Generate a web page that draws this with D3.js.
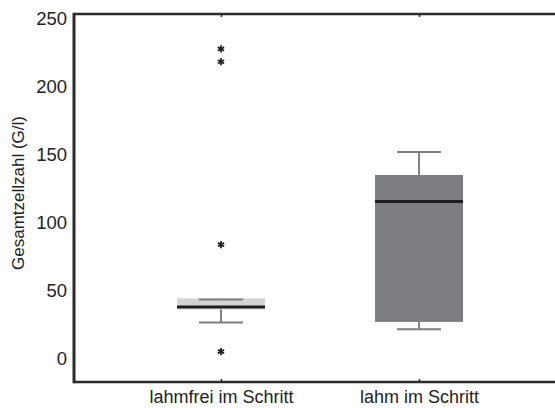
<!DOCTYPE html>
<html><head><meta charset="utf-8">
<script src="https://cdn.jsdelivr.net/npm/d3@7"></script>
<style>body{margin:0;background:#fff}svg{display:block}</style>
</head><body>
<script>
const categories = ["lahmfrei im Schritt", "lahm im Schritt"];
const whiskerLow = [26.7, 21.8];
const q1 = [36.5, 27.2];
const median = [38.2, 115.7];
const q3 = [44.6, 135.3];
const whiskerHigh = [43.6, 152.2];
const outliers = [[228, 218.6, 84, 5.4], []];
const yTicks = [0, 50, 100, 150, 200, 250];
const boxFills = ["#d4d4d4", "#7c7d81"];

const W = 555, H = 408;
const svg = d3.select("body").append("svg").attr("width", W).attr("height", H);
const mLeft = 74, mTop = 14, mBottom = 382, mRight = 566;
const x = d3.scalePoint().domain(categories).range([mLeft, mRight]).padding(0.742);
const y = d3.scaleLinear().domain([-17, 253.7]).range([mBottom, mTop]);
const boxW = 88, capW = 44;
const font = "'Liberation Sans', Arial, sans-serif";

categories.forEach((c, i) => {
  const cx = x(c);
  const g = svg.append("g");
  g.append("line").attr("x1", cx).attr("x2", cx).attr("y1", y(q3[i])).attr("y2", y(whiskerHigh[i]))
    .attr("stroke", "#7f7f7f").attr("stroke-width", 2);
  g.append("line").attr("x1", cx).attr("x2", cx).attr("y1", y(q1[i])).attr("y2", y(whiskerLow[i]))
    .attr("stroke", "#7f7f7f").attr("stroke-width", 2);
  g.append("rect").attr("x", cx - boxW / 2).attr("width", boxW)
    .attr("y", y(q3[i])).attr("height", y(q1[i]) - y(q3[i]))
    .attr("fill", boxFills[i]);
  [whiskerHigh[i], whiskerLow[i]].forEach(v => {
    g.append("line").attr("x1", cx - capW / 2).attr("x2", cx + capW / 2).attr("y1", y(v)).attr("y2", y(v))
      .attr("stroke", "#7f7f7f").attr("stroke-width", 2);
  });
  g.append("line").attr("x1", cx - boxW / 2).attr("x2", cx + boxW / 2).attr("y1", y(median[i])).attr("y2", y(median[i]))
    .attr("stroke", "#1e1e1e").attr("stroke-width", 3);
  outliers[i].forEach(v => {
    const a = svg.append("g").attr("transform", `translate(${cx},${y(v)})`);
    [90, 30, -30].forEach(ang => {
      const r = 3.6, t = ang * Math.PI / 180;
      a.append("line").attr("x1", -r * Math.cos(t)).attr("y1", -r * Math.sin(t))
        .attr("x2", r * Math.cos(t)).attr("y2", r * Math.sin(t))
        .attr("stroke", "#222").attr("stroke-width", 1.8);
    });
  });
});

svg.append("line").attr("x1", mLeft).attr("x2", mRight).attr("y1", mTop).attr("y2", mTop).attr("stroke", "#2a2a2a").attr("stroke-width", 2.5);
svg.append("line").attr("x1", mLeft).attr("x2", mRight).attr("y1", mBottom).attr("y2", mBottom).attr("stroke", "#2a2a2a").attr("stroke-width", 2.5);
svg.append("line").attr("x1", mLeft).attr("x2", mLeft).attr("y1", mTop - 1.25).attr("y2", mBottom + 1.25).attr("stroke", "#2a2a2a").attr("stroke-width", 3);

const xb = svg.append("g").attr("transform", `translate(0,${mBottom})`)
  .call(d3.axisBottom(x).tickSize(-3).tickPadding(10));
xb.select(".domain").remove();
xb.selectAll(".tick line").attr("stroke", "#2a2a2a").attr("stroke-width", 1.5);
xb.selectAll(".tick text").attr("font-family", font).attr("font-size", 18).attr("fill", "#222").attr("dy", "0.71em").attr("y", 8);
const xt = svg.append("g").attr("transform", `translate(0,${mTop})`)
  .call(d3.axisTop(x).tickSize(-3).tickFormat(""));
xt.select(".domain").remove();
xt.selectAll(".tick line").attr("stroke", "#2a2a2a").attr("stroke-width", 1.5);

const ya = svg.append("g").attr("transform", `translate(${mLeft},0)`)
  .call(d3.axisLeft(y).tickValues(yTicks).tickSize(0).tickPadding(7));
ya.select(".domain").remove();
ya.selectAll(".tick text").attr("font-family", font).attr("font-size", 18.5).attr("fill", "#222");

svg.append("text").attr("transform", `translate(24,193) rotate(-90)`)
  .attr("text-anchor", "middle").attr("font-family", font).attr("font-size", 17).attr("fill", "#222")
  .text("Gesamtzellzahl (G/l)");
</script>
</body></html>
